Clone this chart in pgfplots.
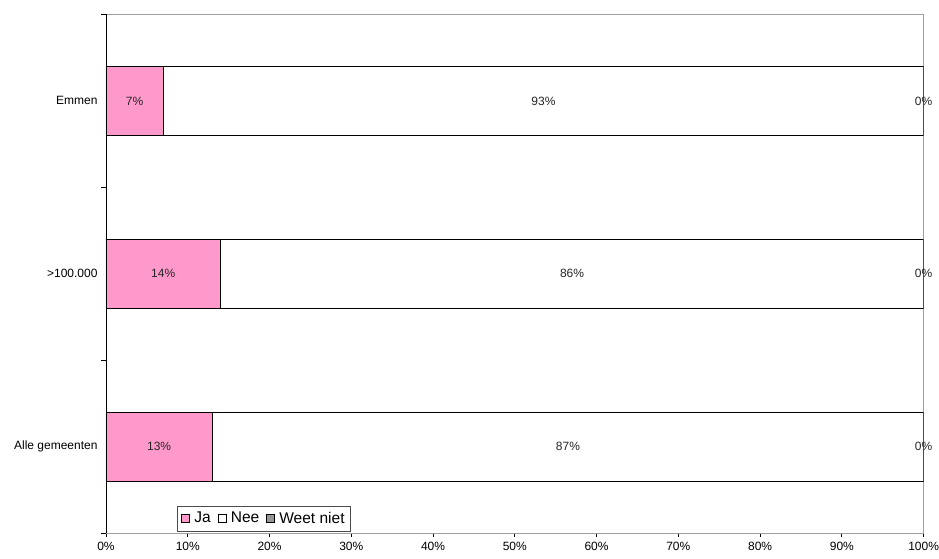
\documentclass[border=0pt]{standalone}
\usepackage{pgfplots}
\usepackage{pgfplotstable}
\pgfplotsset{compat=1.18}
\usepackage{fontspec}
\setmainfont{Liberation Sans}
\definecolor{japink}{HTML}{FF99CC}
\definecolor{wngray}{HTML}{969696}
\definecolor{frame}{HTML}{A0A0A0}

\pgfplotstableread{
pos ja  nee wn
0   13  87  0
1   14  86  0
2   7   93  0
}\answers

\tikzset{pct/.style={font=\fontsize{12bp}{14bp}\selectfont}}
\pgfplotsset{
  shared/.style={
    scale only axis,
    width=817.6bp, height=518.5bp,
    xmin=0, xmax=100,
    ymin=-0.5, ymax=2.5,
    /pgf/number format/assume math mode=true,
  },
}

\begin{document}
\begin{tikzpicture}
\useasboundingbox (-106bp,-26bp) rectangle (833bp,533bp);
\begin{axis}[
  shared,
  xbar stacked,
  bar width=0.4,
  xtick={0,10,...,100},
  xticklabel={\pgfmathprintnumber{\tick}\%},
  ytick={0,1,2},
  yticklabels={Alle gemeenten,{>100.000},Emmen},
  minor ytick={-0.5,0.5,1.5,2.5},
  major y tick style={draw=none},
  minor tick length=5bp,
  major tick length=4bp,
  tick align=outside,
  xtick pos=bottom, ytick pos=left,
  tick style={black, line width=0.7pt},
  axis line style={frame, line width=0.8pt},
  xticklabel style={pct, yshift=-2bp},
  yticklabel style={pct, xshift=-1bp},
  legend columns=3,
  legend style={at={(0.087,0.004)}, anchor=south west, draw=black!70,
    font=\fontsize{15.5bp}{17bp}\selectfont, inner ysep=4bp, inner xsep=4bp,
    /tikz/every odd column/.append style={column sep=2.5bp},
    /tikz/every even column/.append style={column sep=5bp}},
  legend image code/.code={\draw[#1, line width=0.6pt] (0bp,-4bp) rectangle (8bp,4bp);},
  legend cell align=left,
]
\addplot[fill=japink, draw=black, line width=0.7pt] table[x=ja, y=pos] {\answers};
\addplot[fill=white, draw=black, line width=0.7pt] table[x=nee, y=pos] {\answers};
\addplot[fill=wngray, draw=black, line width=0.7pt] table[x=wn, y=pos] {\answers};
\legend{Ja,Nee,Weet niet}
\draw[black, line width=0.8pt] (rel axis cs:0,0) -- (rel axis cs:1,0);
\draw[black, line width=0.8pt] (rel axis cs:0,0) -- (rel axis cs:0,1);
\end{axis}
% value labels, centred in each segment
\begin{axis}[
  shared,
  hide axis,
  nodes near coords={\pgfmathprintnumber{\pgfplotspointmeta}\%},
  point meta=explicit,
  every node near coord/.append style={anchor=center, pct, text=black!85},
]
\addplot[draw=none, no markers] table[x expr=\thisrow{ja}/2, y=pos, meta=ja] {\answers};
\addplot[draw=none, no markers] table[x expr=\thisrow{ja}+\thisrow{nee}/2, y=pos, meta=nee] {\answers};
\addplot[draw=none, no markers] table[x expr=\thisrow{ja}+\thisrow{nee}+\thisrow{wn}/2, y=pos, meta=wn] {\answers};
\end{axis}
\end{tikzpicture}
\end{document}
